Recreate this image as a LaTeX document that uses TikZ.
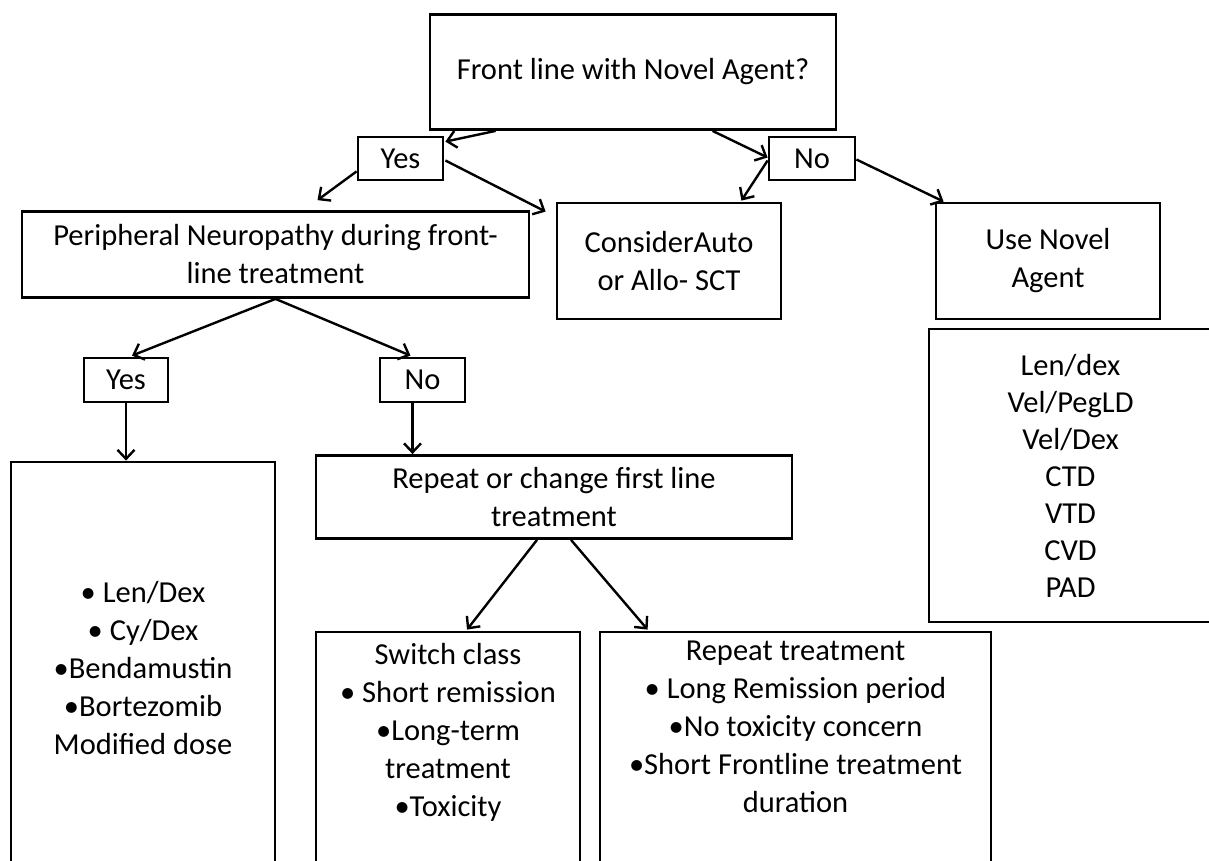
\documentclass[tikz,border=0pt]{standalone}
\usepackage{fontspec}
\setmainfont{Carlito}
\usetikzlibrary{arrows.meta,calc}
\begin{document}
\begin{tikzpicture}[x=1pt,y=-1pt,
  font=\fontsize{30.5}{38}\selectfont,
  box/.style={draw,line width=2.8pt,inner sep=0pt,align=center},
  txt/.style={inner sep=0pt,align=center},
  conn/.style={line width=2.4pt,-{Straight Barb[length=9pt,width=17pt,line width=2.4pt]}}]
\useasboundingbox (0,0) rectangle (1209,861);
\node[box,minimum width=406pt,minimum height=115pt] (top) at (633,72) {Front line with Novel Agent?};
\node[box,minimum width=85pt,minimum height=43pt] (yes1) at (400.5,158.5) {Yes};
\node[box,minimum width=86pt,minimum height=43pt] (no1) at (812,158.5) {No};
\node[box,minimum width=507pt,minimum height=86pt] (periph) at (275.5,254.5) {Peripheral Neuropathy during front-\\line treatment};
\node[box,minimum width=224pt,minimum height=116pt] (consider) at (669,261) {ConsiderAuto\\or Allo- SCT};
\node[box,minimum width=224pt,minimum height=116pt] (usenovel) at (1048,261) {Use Novel\\Agent};
\node[box,minimum width=283pt,minimum height=293pt,font=\fontsize{30.5}{37}\selectfont] (agents) at (1070.5,475.5) {Len/dex\\Vel/PegLD\\Vel/Dex\\CTD\\VTD\\CVD\\PAD};
\node[box,minimum width=84pt,minimum height=44pt] (yes2) at (126,380) {Yes};
\node[box,minimum width=85pt,minimum height=44pt] (no2) at (422.5,380) {No};
\node[box,minimum width=264pt,minimum height=412pt] (treat) at (143,668) {• Len/Dex\\• Cy/Dex\\•Bendamustin\\•Bortezomib\\Modified dose};
\node[box,minimum width=476pt,minimum height=83pt] (change) at (554,497) {Repeat or change first line\\treatment};
\node[box,minimum width=264pt,minimum height=250pt] (switch) at (448,757) {};
\node[txt,anchor=north] (switchtxt) at (448,643) {Switch class\\• Short remission\\•Long-term\\treatment\\•Toxicity};
\node[box,minimum width=391pt,minimum height=250pt] (repeat) at (795.5,757) {};
\node[txt,anchor=north] (repeattxt) at (795.5,641) {Repeat treatment\\• Long Remission period\\•No toxicity concern\\•Short Frontline treatment\\duration};

\draw[conn] ($(top.south west)+(67,0)$) -- ($(yes1.north east)+(1,6)$);
\draw[conn] ($(top.south west)+(284,0)$) -- ($(no1.west)+(0,-1)$);
\draw[conn] ($(yes1.south west)+(0,-10)$) -- ($(periph.north)+(42,-10)$);
\draw[conn] ($(yes1.east)+(1,2)$) -- ($(consider.north west)+(-10,10)$);
\draw[conn] ($(no1.west)+(0,2)$) -- ($(consider.north east)+(-41,-1)$);
\draw[conn] ($(no1.east)+(0,1)$) -- ($(usenovel.north west)+(9,0)$);
\draw[conn] (periph.south) -- ($(yes2.north)+(6,-1)$);
\draw[conn] (periph.south) -- ($(no2.north)+(-12,-1)$);
\draw[conn] (yes2.south) -- (yes2.south |- treat.north);
\draw[conn] ($(no2.south)+(-10,0)$) -- ($(no2.south |- change.north)+(-10,0)$);
\draw[conn] ($(change.south)+(-17,0)$) -- ($(switch.north)+(19,-1)$);
\draw[conn] ($(change.south)+(17,0)$) -- ($(repeat.north west)+(49,-1)$);
\end{tikzpicture}
\end{document}
